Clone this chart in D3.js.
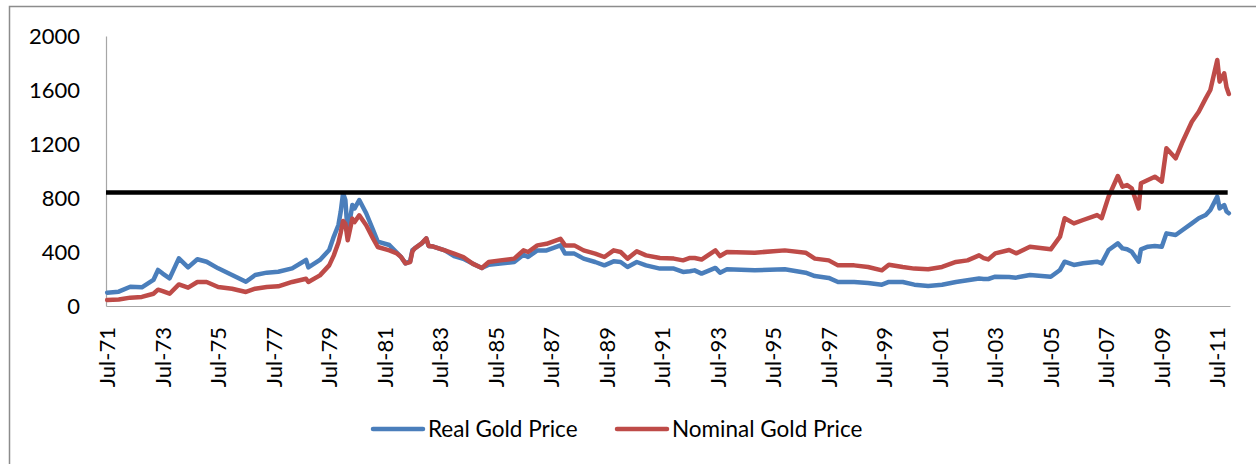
<!DOCTYPE html>
<html>
<head>
<meta charset="utf-8">
<script src="https://cdn.jsdelivr.net/npm/d3@7"></script>
<style>
  body { margin: 0; background: #fff; }
  svg text { font-family: Lato, "Open Sans", sans-serif; fill: #000; }
</style>
</head>
<body>
<div class="chart"></div>
<script>
// data: month, real price, nominal price
const months = ["1971-07","1971-12","1972-05","1972-10","1973-03","1973-05","1973-07","1973-10","1974-02","1974-06",
  "1974-10","1975-02","1975-07","1976-01","1976-07","1976-11","1977-04","1977-09","1978-03","1978-09",
  "1978-10","1979-03","1979-07","1979-09","1979-11","1979-12","1980-01","1980-02","1980-03","1980-05",
  "1980-06","1980-08","1980-11","1981-02","1981-04","1981-09","1981-12","1982-02","1982-04","1982-06",
  "1982-07","1982-08","1982-11","1983-01","1983-02","1983-04","1983-09","1984-01","1984-05","1984-09",
  "1985-01","1985-04","1985-09","1986-03","1986-07","1986-09","1987-01","1987-05","1987-11","1988-01",
  "1988-05","1988-09","1989-02","1989-06","1989-10","1990-01","1990-04","1990-08","1990-12","1991-06",
  "1991-12","1992-04","1992-07","1992-09","1992-12","1993-06","1993-08","1993-11","1994-11","1995-12",
  "1996-09","1997-01","1997-07","1997-11","1998-06","1998-12","1999-06","1999-09","2000-03","2000-08",
  "2001-02","2001-08","2002-02","2002-07","2002-12","2003-02","2003-04","2003-07","2004-01","2004-04",
  "2004-10","2005-07","2005-11","2006-01","2006-05","2006-09","2007-03","2007-05","2007-08","2007-12",
  "2008-02","2008-04","2008-06","2008-09","2008-10","2009-01","2009-04","2009-07","2009-09","2010-01",
  "2010-04","2010-08","2010-11","2011-02","2011-04","2011-07","2011-08","2011-10","2011-11","2011-12"];

const realPrice = [99,106,143,138,193,267,240,205,353,286,
  346,328,279,230,180,230,247,254,279,341,
  286,341,415,514,600,700,835,785,536,748,
  723,785,687,563,477,452,400,365,316,330,
  415,427,464,500,445,440,412,370,350,314,
  282,306,314,326,380,363,412,412,449,388,
  388,351,326,301,331,326,289,326,301,277,
  277,252,257,264,240,282,247,272,264,272,
  247,222,208,178,178,170,158,178,178,158,
  148,158,178,190,203,200,200,217,215,210,
  230,217,267,328,304,316,328,316,415,464,
  427,420,402,328,420,439,444,439,538,526,
  563,612,650,674,711,810,723,748,700,687];

const nominalPrice = [44,48,62,67,91,121,110,91,160,136,
  178,178,141,128,104,128,141,146,178,202,
  178,227,301,375,470,545,630,610,487,647,
  622,672,598,499,437,412,392,365,316,325,
  405,427,464,501,445,440,412,388,363,314,
  282,326,338,351,412,400,449,461,498,449,
  449,412,388,363,412,400,351,405,375,356,
  351,338,356,356,344,412,370,400,395,412,
  395,351,338,301,301,289,264,306,289,277,
  272,289,326,338,375,355,345,390,415,390,
  439,420,514,650,612,637,674,650,810,963,
  884,896,872,723,909,933,958,921,1168,1094,
  1217,1365,1439,1538,1600,1822,1662,1724,1620,1570];

const peakLevel = 840;   // horizontal reference line
const yTicks = [0, 400, 800, 1200, 1600, 2000];
const xTickLabels = ["Jul-71","Jul-73","Jul-75","Jul-77","Jul-79","Jul-81","Jul-83","Jul-85","Jul-87","Jul-89",
  "Jul-91","Jul-93","Jul-95","Jul-97","Jul-99","Jul-01","Jul-03","Jul-05","Jul-07","Jul-09","Jul-11"];
const seriesNames = ["Real Gold Price", "Nominal Gold Price"];
const seriesColors = ["#4A7EBB", "#BE4B48"];

const W = 1256, H = 464;
const plot = {left: 106, right: 1230, top: 36, bottom: 306};

// month index counted from Jul-71
const monthIndex = s => { const [y, m] = s.split("-").map(Number); return (y - 1971) * 12 + (m - 7); };
const labelIndex = l => { const yy = +l.slice(4); return monthIndex((yy > 50 ? 1900 + yy : 2000 + yy) + "-07"); };
const nMonths = monthIndex("2011-12") + 1;

const svg = d3.select(".chart").append("svg")
    .attr("width", W)
    .attr("height", H);

// chart frame
svg.append("rect")
    .attr("x", 9.5).attr("y", 6.5)
    .attr("width", 1400).attr("height", 600)
    .attr("fill", "none")
    .attr("stroke", "#8c8c8c")
    .attr("stroke-width", 1.5);

const x = d3.scaleLinear()
    .domain([-0.5, nMonths - 0.5])
    .range([plot.left, plot.right]);

const y = d3.scaleLinear()
    .domain([0, 2000])
    .range([plot.bottom, plot.top]);

// y axis
const yAxis = d3.axisLeft(y).tickValues(yTicks).tickFormat(d3.format("d")).tickSize(0).tickPadding(26);
const yAxisDisplay = svg.append("g")
    .attr("class", "axis y-axis")
    .attr("transform", `translate(${plot.left},0)`)
    .call(yAxis);
yAxisDisplay.select(".domain").attr("stroke", "#a6a6a6").attr("stroke-width", 1.2);
yAxisDisplay.selectAll("text").style("font-size", "22px").attr("dy", "0.35em");

// x axis
const xAxis = d3.axisBottom(x)
    .tickValues(xTickLabels.map(labelIndex))
    .tickFormat((d, i) => xTickLabels[i])
    .tickSize(0);
const xAxisDisplay = svg.append("g")
    .attr("class", "axis x-axis")
    .attr("transform", `translate(0,${plot.bottom})`)
    .call(xAxis);
xAxisDisplay.select(".domain").attr("stroke", "#a6a6a6").attr("stroke-width", 1.2);
xAxisDisplay.selectAll("text")
    .style("font-size", "22px")
    .attr("y", 0)
    .attr("x", -21)
    .attr("dy", "0.35em")
    .attr("transform", "rotate(-90)")
    .style("text-anchor", "end");

// series
const line = d3.line()
    .x(d => x(d.m))
    .y(d => y(d.v));

const series = [realPrice, nominalPrice].map(vals =>
    months.map((s, i) => ({m: monthIndex(s), v: vals[i]})));

svg.selectAll(".series")
    .data(series)
    .enter()
    .append("path")
    .attr("class", "series")
    .attr("d", line)
    .attr("fill", "none")
    .attr("stroke", (d, i) => seriesColors[i])
    .attr("stroke-width", 4.5)
    .attr("stroke-linejoin", "round")
    .attr("stroke-linecap", "round");

// reference line
svg.append("line")
    .attr("x1", x(-0.5)).attr("x2", x(nMonths - 1.5))
    .attr("y1", y(peakLevel)).attr("y2", y(peakLevel))
    .attr("stroke", "#000")
    .attr("stroke-width", 4.5);

// legend
const legendX = [373, 617];
const legend = svg.selectAll(".legend")
    .data(seriesNames)
    .enter()
    .append("g")
    .attr("class", "legend")
    .attr("transform", (d, i) => `translate(${legendX[i]},429)`);
legend.append("line")
    .attr("x1", 0).attr("x2", 50)
    .attr("stroke", (d, i) => seriesColors[i])
    .attr("stroke-width", 4.5)
    .attr("stroke-linecap", "round");
legend.append("text")
    .attr("x", 55)
    .attr("dy", "0.35em")
    .style("font-size", "22.5px")
    .text(d => d);
</script>
</body>
</html>
